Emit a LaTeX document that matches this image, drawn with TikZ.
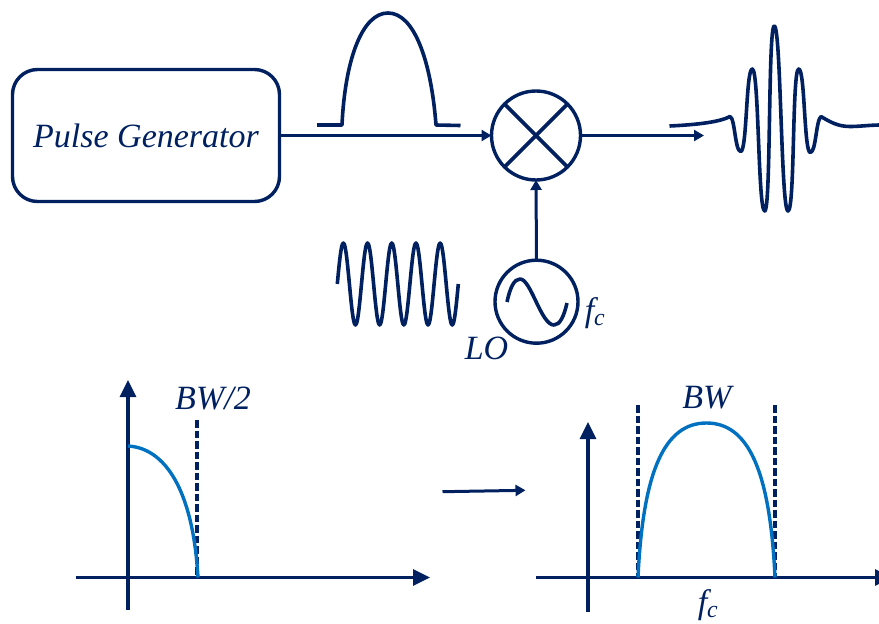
\documentclass[tikz,border=0pt]{standalone}
\usepackage{fontspec}
\setmainfont{Liberation Serif}
\usetikzlibrary{arrows.meta}
\definecolor{navy}{HTML}{002060}
\definecolor{spectrum}{HTML}{0070C0}

\begin{document}
\begin{tikzpicture}[
    x=1pt, y=-1pt,
    >={Triangle[length=10pt,width=11pt]},
    line join=round,
    % Line and text styles shared by the whole figure
    wire/.style={navy, line width=3pt},
    wave/.style={navy, line width=3.6pt},
    axis/.style={navy, line width=3.2pt, -{Triangle[length=17pt,width=16pt]}},
    limit/.style={navy, line width=3.6pt, dash pattern=on 7.5pt off 3pt},
    spec/.style={spectrum, line width=3.4pt},
    tag/.style={navy, inner sep=0pt, font=\fontsize{34}{36}\selectfont\itshape},
    blockbox/.style={draw=navy, line width=3.4pt, rounded corners=25pt, inner sep=0pt, outer sep=0pt},
    roundbox/.style={draw=navy, line width=3.4pt, circle, inner sep=0pt, outer sep=0pt}
]
\useasboundingbox (0,0) rectangle (879,624);

% --- Blocks ---
\node[blockbox, minimum width=267pt, minimum height=132pt, tag] (pulsegen) at (146,135.5) {Pulse Generator};
\node[roundbox, minimum size=89pt] (mixer) at (536,135.5) {};
\node[roundbox, minimum size=83pt] (lo) at (536.5,301.7) {};
\coordinate (outend) at (704,135.5);

% --- Connectors ---
\draw[->, wire] (pulsegen.east) -- (mixer.west);
\draw[->, wire] (mixer.east) -- (outend);
\draw[->, wire] (lo.north) -- (mixer.south);
\draw[wave] (mixer.45) -- (mixer.225);
\draw[wave] (mixer.135) -- (mixer.315);

% --- Waveforms ---
\draw[wave] (317,125) -- (342,125) .. controls (345,60) and (362,13) .. (388,13)
    .. controls (414,13) and (431,60) .. (436,125) -- (460.5,125.5);
\draw[wave] (507,302) .. controls (510,288) and (514,279) .. (520,279)
    .. controls (531,279) and (541,325) .. (554,325) .. controls (560,325) and (564,316) .. (567,303);
\draw[wave, domain=337.3:458.3, samples=121, smooth]
    plot (\x, {284-41*sin(14.876*(\x-337.3))});
\draw[wave] (669.5,126) .. controls (690,125) and (718,123) .. (730,116.5)
    .. controls (735,118) and (735,151.5) .. (740.7,151.5)
    .. controls (747,151.5) and (746,69) .. (752.3,69)
    .. controls (759,69) and (758,211) .. (764.7,211)
    .. controls (771,211) and (768,26) .. (774.3,26)
    .. controls (781,26) and (781,211) .. (788,211)
    .. controls (795,211) and (792,69) .. (798.7,69)
    .. controls (805,69) and (804,152.5) .. (810.3,152.5)
    .. controls (816,152.5) and (816,120) .. (821,116.5)
    .. controls (830,122) and (838,126.5) .. (850,126.5)
    .. controls (860,126.5) and (870,125) .. (881,125);

% --- Left spectrum ---
\coordinate (xstartL) at (75.5,577.5);
\coordinate (xendL) at (430,577.5);
\coordinate (ystartL) at (128,610);
\coordinate (yendL) at (128,380);
\coordinate (limtopL) at (197,420);
\coordinate (limbotL) at (197,577.5);
\draw[axis] (xstartL) -- (xendL);
\draw[axis] (ystartL) -- (yendL);
\draw[limit] (limtopL) -- (limbotL);
\draw[spec] (128,446) .. controls (165,448) and (193,490) .. (198,577.5);

% --- Arrow between the spectra ---
\coordinate (stepstart) at (442.5,491.7);
\coordinate (stepend) at (525.5,490.3);
\draw[->, wire] (stepstart) -- (stepend);

% --- Right spectrum ---
\coordinate (xstartR) at (536,577.5);
\coordinate (xendR) at (892,577.5);
\coordinate (ystartR) at (588,611.5);
\coordinate (yendR) at (588,422);
\coordinate (limtopRa) at (638,405);
\coordinate (limbotRa) at (638,577.5);
\coordinate (limtopRb) at (774.7,405);
\coordinate (limbotRb) at (774.7,577.5);
\draw[axis] (xstartR) -- (xendR);
\draw[axis] (ystartR) -- (yendR);
\draw[limit] (limtopRa) -- (limbotRa);
\draw[limit] (limtopRb) -- (limbotRb);
\draw[spec] (638,577.5) .. controls (643,470) and (665,423) .. (706.5,423)
    .. controls (748,423) and (770,470) .. (775,577.5);

% --- Labels ---
\node[tag] (lolabel) at (486.5,348) {LO};
\node[tag] (fclo) at (595,313) {f\textsubscript{c}};
\node[tag] (halfbw) at (213,398) {BW/2};
\node[tag] (fullbw) at (707,398) {BW};
\node[tag] (fcaxis) at (708,605) {f\textsubscript{c}};

\end{tikzpicture}
\end{document}
